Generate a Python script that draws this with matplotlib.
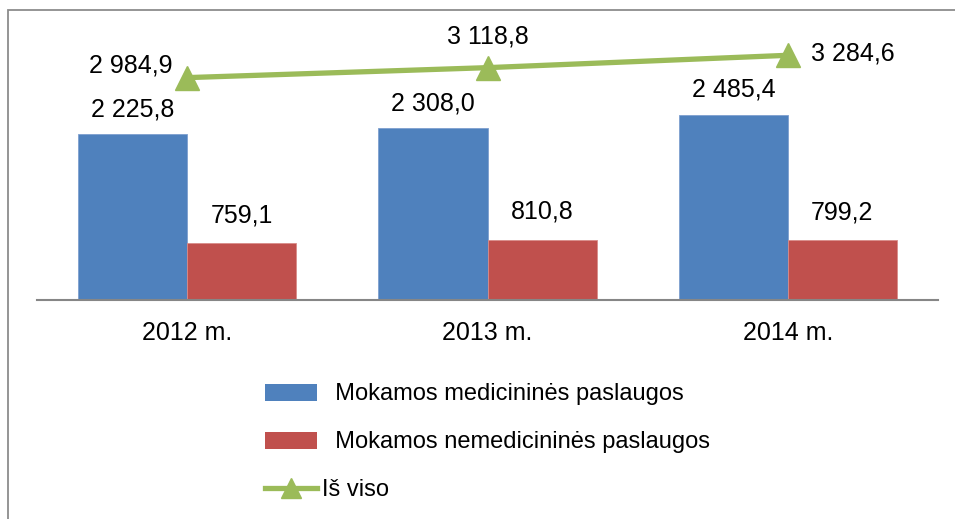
import numpy as np
import matplotlib.pyplot as plt
from matplotlib.patches import Rectangle, Patch
from matplotlib.lines import Line2D

years = ["2012 m.", "2013 m.", "2014 m."]
medical = [2225.8, 2308.0, 2485.4]
non_medical = [759.1, 810.8, 799.2]
total = [2984.9, 3118.8, 3284.6]
series_names = ["Mokamos medicininės paslaugos",
                "Mokamos nemedicininės paslaugos",
                "Iš viso"]

blue = "#4F81BD"
red = "#C0504D"
green = "#9BBB59"
font = "Liberation Sans"
fs = 18


def fmt(v):
    s = "{:,.1f}".format(v)
    return s.replace(",", " ").replace(".", ",")


W, H = 955, 519
fig = plt.figure(figsize=(W / 100, H / 100), dpi=100)

# outer chart frame (left and top visible)
fig.patches.append(Rectangle((8 / W, -0.1), 1.2, (H - 10) / H + 0.1,
                             transform=fig.transFigure, fill=False,
                             edgecolor="#8c8c8c", linewidth=1.3))

ax = fig.add_axes([37 / W, (H - 300) / H, 901 / W, 298 / H])
x = np.arange(len(years))
bw = 0.363
ax.bar(x - bw / 2, medical, bw, color=blue, edgecolor="#7e9fcf", linewidth=0.6)
ax.bar(x + bw / 2, non_medical, bw, color=red, edgecolor="#d88c89", linewidth=0.6)
ax.plot(x, total, color=green, linewidth=3.8, marker="^", markersize=17, zorder=5)

ax.set_xlim(-0.5, 2.5)
ax.set_ylim(0, 4000)
for s in ["top", "left", "right"]:
    ax.spines[s].set_visible(False)
ax.spines["bottom"].set_color("#868686")
ax.spines["bottom"].set_linewidth(1.5)
ax.set_yticks([])
ax.set_xticks(x)
ax.set_xticklabels(years, fontsize=fs, family=font)
ax.tick_params(axis="x", length=0, pad=15)

for i in range(len(years)):
    ax.annotate(fmt(medical[i]), (x[i] - bw / 2, medical[i]), xytext=(0, 25),
                textcoords="offset pixels", ha="center", va="center",
                fontsize=fs, family=font)
    ax.annotate(fmt(non_medical[i]), (x[i] + bw / 2, non_medical[i]), xytext=(0, 28),
                textcoords="offset pixels", ha="center", va="center",
                fontsize=fs, family=font)

offsets = [(-56, 12), (0, 31), (65, 2)]
for i in range(len(years)):
    ax.annotate(fmt(total[i]), (x[i], total[i]), xytext=offsets[i],
                textcoords="offset pixels", ha="center", va="center",
                fontsize=fs, family=font)

handles = [Patch(facecolor=blue), Patch(facecolor=red),
           Line2D([], [], color=green, linewidth=3.8, marker="^", markersize=14)]
labels = ["  " + series_names[0], "  " + series_names[1], series_names[2]]
fig.legend(handles, labels, loc="upper left", bbox_to_anchor=(256 / W, 1 - 374 / H),
           frameon=False, handlelength=2.2, handleheight=0.75,
           handletextpad=0.2, labelspacing=1.1, borderaxespad=0,
           prop={"family": font, "size": 17})

fig.savefig("out.png", dpi=100)
